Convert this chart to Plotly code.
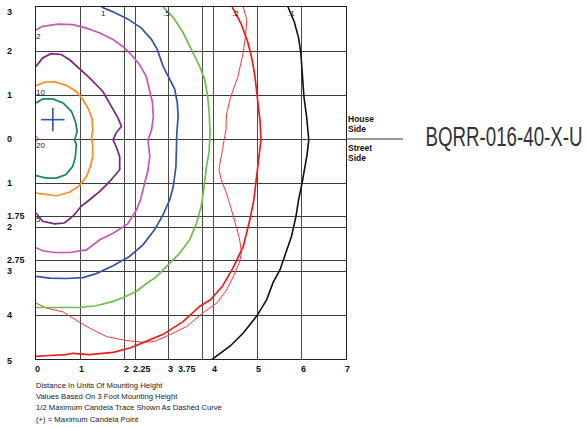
import plotly.graph_objects as go

# ---- contour data (distance in mounting heights; + house side, - street side)
FC20_X = [0, 0.15, 0.38, 0.61, 0.80, 0.89, 0.93, 0.87, 0.91, 0.89, 0.83, 0.68, 0.46, 0.23, 0]
FC20_Y = [0.82, 0.91, 0.91, 0.82, 0.63, 0.40, 0.17, -0.02, -0.13, -0.40, -0.62, -0.81, -0.89, -0.89, -0.83]

FC10_X = [0, 0.19, 0.42, 0.68, 0.91, 1.06, 1.19, 1.27, 1.28, 1.25, 1.28, 1.28, 1.23, 1.14, 0.98, 0.76, 0.46, 0.19, 0]
FC10_Y = [1.21, 1.29, 1.30, 1.22, 1.08, 0.89, 0.67, 0.44, 0.21, 0.0, -0.13, -0.40, -0.62, -0.85, -1.06, -1.21, -1.29, -1.26, -1.23]

FC5_X = [0, 0.15, 0.34, 0.57, 0.76, 0.95, 1.21, 1.51, 1.70, 1.85, 1.93, 1.81, 1.74, 1.81, 1.89, 1.89, 1.66, 1.44, 1.21, 1.02, 0.83, 0.64, 0.42, 0.15, 0]
FC5_Y = [1.65, 1.84, 1.94, 1.92, 1.80, 1.62, 1.39, 1.08, 0.74, 0.48, 0.29, 0.14, -0.02, -0.17, -0.40, -0.70, -0.97, -1.19, -1.38, -1.53, -1.76, -1.91, -1.93, -1.87, -1.68]

FC2_X = [0, 0.15, 0.49, 0.83, 1.14, 1.44, 1.74, 2.00, 2.19, 2.34, 2.49, 2.57, 2.63, 2.65, 2.61, 2.53, 2.57, 2.53, 2.45, 2.36, 2.27, 2.07, 1.74, 1.44, 1.14, 0.76, 0.42, 0.15, 0]
FC2_Y = [2.48, 2.56, 2.61, 2.60, 2.52, 2.41, 2.26, 2.07, 1.87, 1.69, 1.42, 1.12, 0.83, 0.51, 0.21, -0.02, -0.40, -0.70, -1.0, -1.38, -1.61, -1.93, -2.14, -2.29, -2.52, -2.58, -2.58, -2.54, -2.47]

FC1_X = [1.475, 1.74, 2.07, 2.38, 2.61, 2.74, 2.87, 3.02, 3.13, 3.19, 3.21, 3.18, 3.17, 3.16, 3.10, 3.02, 2.87, 2.68, 2.42, 2.11, 1.74, 1.36, 1.06, 0.68, 0.31, 0]
FC1_Y = [3.0, 2.89, 2.73, 2.52, 2.26, 2.03, 1.65, 1.37, 1.14, 0.83, 0.51, 0.14, -0.17, -0.62, -1.08, -1.38, -1.72, -2.06, -2.40, -2.67, -2.88, -3.06, -3.15, -3.17, -3.16, -3.12]

FC05_X = [2.87, 3.10, 3.32, 3.53, 3.70, 3.81, 3.87, 3.91, 3.93, 3.91, 3.85, 3.81, 3.74, 3.63, 3.47, 3.25, 2.95, 2.72, 2.49, 2.27, 1.96, 1.74, 1.36, 0.98, 0.46, 0]
FC05_Y = [3.0, 2.76, 2.42, 1.98, 1.64, 1.35, 1.01, 0.62, 0.14, -0.29, -0.62, -0.97, -1.49, -1.90, -2.29, -2.59, -2.90, -3.13, -3.29, -3.46, -3.61, -3.69, -3.79, -3.83, -3.83, -3.83]

FC02_X = [4.43, 4.63, 4.78, 4.87, 4.94, 5.0, 5.06, 5.08, 5.03, 4.97, 4.92, 4.83, 4.68, 4.45, 4.20, 3.93, 3.70, 3.32, 2.87, 2.49, 2.12, 1.74, 1.21, 0.83, 0.68, 0.31, 0]
FC02_Y = [3.0, 2.62, 2.21, 1.85, 1.46, 0.89, 0.39, -0.02, -0.47, -0.92, -1.38, -1.83, -2.44, -2.93, -3.36, -3.66, -3.80, -4.15, -4.44, -4.60, -4.75, -4.85, -4.90, -4.87, -4.90, -4.92, -4.94]

HALF_CD_X = [4.68, 4.76, 4.73, 4.67, 4.56, 4.39, 4.30, 4.29, 4.21, 4.13, 4.19, 4.30, 4.40, 4.49, 4.59, 4.64, 4.60, 4.45, 4.29, 4.08, 3.77, 3.40, 3.02, 2.68, 2.42, 2.04, 1.59, 1.21, 0.98, 0.83, 0.61, 0.23, 0]
HALF_CD_Y = [3.0, 2.71, 2.33, 1.92, 1.42, 0.94, 0.55, 0.21, -0.24, -0.70, -0.95, -1.23, -1.56, -1.88, -2.24, -2.56, -2.79, -3.14, -3.45, -3.73, -3.95, -4.26, -4.45, -4.60, -4.62, -4.58, -4.49, -4.30, -4.15, -4.07, -3.93, -3.84, -3.73]

FC01_X = [5.69, 5.83, 5.93, 5.98, 6.02, 6.05, 6.11, 6.16, 6.12, 6.07, 6.01, 5.93, 5.87, 5.77, 5.64, 5.51, 5.35, 5.21, 4.98, 4.68, 4.38, 3.96]
FC01_Y = [3.0, 2.67, 2.30, 1.95, 1.39, 0.96, 0.51, -0.02, -0.36, -0.70, -0.99, -1.38, -1.76, -2.21, -2.59, -2.97, -3.27, -3.65, -4.03, -4.41, -4.71, -5.02]

FC50_X = [0, 0.06, 0]
FC50_Y = [0.06, 0.0, -0.05]

MAX_CD_X = 0.38
MAX_CD_Y = 0.44
MAX_CD_ARM = 0.265

X_GRID = [1, 2, 2.25, 3, 3.75, 4, 5, 6]
Y_GRID = [2, 1, 0, -1, -1.75, -2, -2.75, -3, -4]

X_TICKS = [0, 1, 2, 2.25, 3, 3.75, 4, 5, 6, 7]
X_TICK_TEXT = ["0", "1", "2", "2.25", "3", "3.75", "4", "5", "6", "7"]
Y_TICKS = [3, 2, 1, 0, -1, -1.75, -2, -2.75, -3, -4, -5]
Y_TICK_TEXT = ["3", "2", "1", "0", "1", "1.75", "2", "2.75", "3", "4", "5"]

FOOTER = [
    "Distance In Units Of Mounting Height",
    "Values Based On 3 Foot Mounting Height",
    "1/2 Maximum Candela Trace Shown As Dashed Curve",
    "(+) = Maximum Candela Point",
]
TITLE = "BQRR-016-40-X-U"

FONT = "Liberation Sans, Arial, sans-serif"

fig = go.Figure()

def add_line(xs, ys, color, width):
    fig.add_trace(go.Scatter(x=xs, y=ys, mode="lines",
                             line=dict(color=color, width=width),
                             hoverinfo="skip", showlegend=False))

add_line(FC01_X, FC01_Y, "#111111", 1.6)
add_line(HALF_CD_X, HALF_CD_Y, "#f03a3a", 1.0)
add_line(FC02_X, FC02_Y, "#ee1c1c", 1.7)
add_line(FC05_X, FC05_Y, "#6cc04a", 1.7)
add_line(FC1_X, FC1_Y, "#3453a6", 1.7)
add_line(FC2_X, FC2_Y, "#c657b4", 1.7)
add_line(FC5_X, FC5_Y, "#7a2480", 1.7)
add_line(FC10_X, FC10_Y, "#ff8a1e", 1.7)
add_line(FC20_X, FC20_Y, "#168a4c", 1.7)
add_line(FC50_X, FC50_Y, "#ee1c1c", 1.0)

# maximum candela "+"
add_line([MAX_CD_X - MAX_CD_ARM, MAX_CD_X + MAX_CD_ARM], [MAX_CD_Y, MAX_CD_Y], "#3453a6", 1.6)
add_line([MAX_CD_X, MAX_CD_X], [MAX_CD_Y - MAX_CD_ARM, MAX_CD_Y + MAX_CD_ARM], "#3453a6", 1.6)

ann = []
# left axis labels
for v, t in zip(Y_TICKS, Y_TICK_TEXT):
    shift = -5 if v == 3 else (-2 if v == -5 else 0)
    ann.append(dict(x=-0.092, xref="paper", y=v, yref="y", text="<b>%s</b>" % t,
                    xanchor="left", yanchor="middle", yshift=shift, showarrow=False,
                    borderpad=0, borderwidth=0,
                    font=dict(family=FONT, size=9, color="#111111")))
# bottom axis labels
for v, t in zip(X_TICKS, X_TICK_TEXT):
    xs = -1
    if t == "2.25":
        xs = -2.5
    if t == "3.75":
        xs = -24.5
    ann.append(dict(x=v, xref="x", y=0, yref="paper", text="<b>%s</b>" % t,
                    xanchor="left", yanchor="middle", xshift=xs, yshift=-10,
                    showarrow=False, borderpad=0, borderwidth=0,
                    font=dict(family=FONT, size=9, color="#111111")))
# contour labels
for x, y, t in [(FC1_X[0], 3, "1"), (FC05_X[0], 3, ".5"),
                (FC02_X[0], 3, ".2"), (FC01_X[0], 3, ".1"),
                (0, FC2_Y[0], "2"), (0, FC10_Y[0], "10"),
                (0, 0, "20"), (0, FC5_Y[-1], "5")]:
    ann.append(dict(x=x, xref="x", y=y, yref="y", text=t, xanchor="left", yanchor="top",
                    yshift=-2, showarrow=False, borderpad=0, borderwidth=0,
                    font=dict(family=FONT, size=8, color="#222222")))
# house / street side
for t, y in [("House", 0.466), ("Side", 0.227), ("Street", -0.205), ("Side", -0.443)]:
    ann.append(dict(x=1.0065, xref="paper", y=y, yref="y", text="<b>%s</b>" % t,
                    xanchor="left", yanchor="middle", showarrow=False,
                    borderpad=0, borderwidth=0,
                    font=dict(family=FONT, size=8.5, color="#111111")))
# product name (centred; glyph width is fitted after drawing)
ann.append(dict(x=1.511, xref="paper", y=0.05, yref="y", text=TITLE,
                xanchor="center", yanchor="middle", showarrow=False,
                width=158, height=30, borderpad=0, borderwidth=0,
                font=dict(family=FONT, size=27, color="#333333")))
# footer notes
for i, t in enumerate(FOOTER):
    ann.append(dict(x=0.0016, xref="paper", y=0, yref="paper", text=t,
                    xanchor="left", yanchor="middle", yshift=-26.7 - 11.1 * i,
                    showarrow=False, borderpad=0, borderwidth=0,
                    font=dict(family=FONT, size=7.7, color="#222222")))

fig.update_layout(
    width=587, height=427,
    margin=dict(l=36, r=241, t=7, b=68, pad=0),
    paper_bgcolor="white", plot_bgcolor="white",
    font=dict(family=FONT, color="#222222"),
    showlegend=False,
    annotations=ann,
    shapes=[dict(type="line", xref="paper", yref="paper", x0=1.0, x1=1.184,
                 y0=0.625, y1=0.625, line=dict(color="#333333", width=1.2))],
    xaxis=dict(range=[0, 7], tickvals=X_GRID, showticklabels=False, ticks="",
               showgrid=True, gridcolor="#4a4a4a", gridwidth=1.2, zeroline=False,
               showline=True, linecolor="#222222", linewidth=1.3, mirror=True,
               fixedrange=True),
    yaxis=dict(range=[-5, 3], tickvals=Y_GRID, showticklabels=False, ticks="",
               showgrid=True, gridcolor="#3a3a3a", gridwidth=1.2, zeroline=False,
               showline=True, linecolor="#222222", linewidth=1.3, mirror=True,
               fixedrange=True),
)

POST = """
document.body.style.margin = '0';
document.querySelectorAll('text.annotation-text').forEach(function (el) {
  if (el.textContent === '%s') {
    el.setAttribute('textLength', '157');
    el.setAttribute('lengthAdjust', 'spacingAndGlyphs');
  }
});
""" % TITLE

fig.write_html("out.html", config={"displayModeBar": False}, post_script=POST)
